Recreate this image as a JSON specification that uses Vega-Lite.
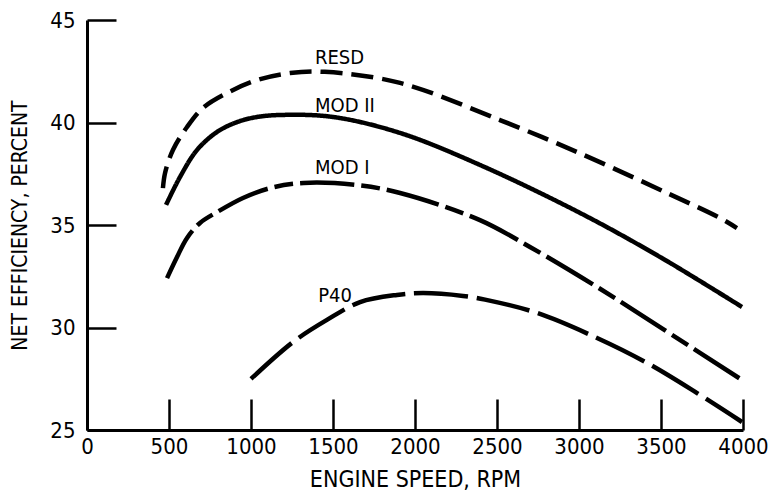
{
  "$schema": "https://vega.github.io/schema/vega-lite/v6.json",
  "autosize": "none",
  "width": 656,
  "height": 410,
  "padding": {"left": 87, "top": 20, "right": 29, "bottom": 64},
  "background": "white",
  "config": {
    "view": {"stroke": null},
    "font": "DejaVu Sans Condensed, Liberation Sans Narrow, DejaVu Sans, sans-serif",
    "axis": {"grid": false}
  },
  "datasets": {
    "curves": [
      {"series": "RESD", "rpm": 463, "eff": 36.8},
      {"series": "RESD", "rpm": 476, "eff": 37.54},
      {"series": "RESD", "rpm": 524, "eff": 38.66},
      {"series": "RESD", "rpm": 610, "eff": 39.78},
      {"series": "RESD", "rpm": 707, "eff": 40.71},
      {"series": "RESD", "rpm": 854, "eff": 41.44},
      {"series": "RESD", "rpm": 1037, "eff": 42.07},
      {"series": "RESD", "rpm": 1238, "eff": 42.41},
      {"series": "RESD", "rpm": 1450, "eff": 42.47},
      {"series": "RESD", "rpm": 1909, "eff": 41.93},
      {"series": "RESD", "rpm": 2518, "eff": 40.12},
      {"series": "RESD", "rpm": 2988, "eff": 38.56},
      {"series": "RESD", "rpm": 3537, "eff": 36.56},
      {"series": "RESD", "rpm": 3860, "eff": 35.34},
      {"series": "RESD", "rpm": 3963, "eff": 34.85},
      {"series": "MOD II", "rpm": 482, "eff": 35.98},
      {"series": "MOD II", "rpm": 567, "eff": 37.34},
      {"series": "MOD II", "rpm": 671, "eff": 38.66},
      {"series": "MOD II", "rpm": 793, "eff": 39.54},
      {"series": "MOD II", "rpm": 915, "eff": 40.02},
      {"series": "MOD II", "rpm": 1037, "eff": 40.27},
      {"series": "MOD II", "rpm": 1195, "eff": 40.37},
      {"series": "MOD II", "rpm": 1500, "eff": 40.27},
      {"series": "MOD II", "rpm": 1909, "eff": 39.49},
      {"series": "MOD II", "rpm": 2396, "eff": 37.93},
      {"series": "MOD II", "rpm": 3006, "eff": 35.59},
      {"series": "MOD II", "rpm": 3494, "eff": 33.44},
      {"series": "MOD II", "rpm": 3994, "eff": 31.0},
      {"series": "MOD I", "rpm": 488, "eff": 32.41},
      {"series": "MOD I", "rpm": 549, "eff": 33.44},
      {"series": "MOD I", "rpm": 610, "eff": 34.37},
      {"series": "MOD I", "rpm": 689, "eff": 35.1},
      {"series": "MOD I", "rpm": 793, "eff": 35.63},
      {"series": "MOD I", "rpm": 951, "eff": 36.32},
      {"series": "MOD I", "rpm": 1116, "eff": 36.8},
      {"series": "MOD I", "rpm": 1320, "eff": 37.05},
      {"series": "MOD I", "rpm": 1646, "eff": 36.95},
      {"series": "MOD I", "rpm": 1909, "eff": 36.56},
      {"series": "MOD I", "rpm": 2396, "eff": 35.24},
      {"series": "MOD I", "rpm": 2701, "eff": 33.93},
      {"series": "MOD I", "rpm": 3110, "eff": 31.98},
      {"series": "MOD I", "rpm": 3494, "eff": 30.02},
      {"series": "MOD I", "rpm": 3994, "eff": 27.44},
      {"series": "P40", "rpm": 1000, "eff": 27.49},
      {"series": "P40", "rpm": 1256, "eff": 29.29},
      {"series": "P40", "rpm": 1463, "eff": 30.37},
      {"series": "P40", "rpm": 1665, "eff": 31.24},
      {"series": "P40", "rpm": 1890, "eff": 31.59},
      {"series": "P40", "rpm": 2050, "eff": 31.68},
      {"series": "P40", "rpm": 2293, "eff": 31.54},
      {"series": "P40", "rpm": 2427, "eff": 31.36},
      {"series": "P40", "rpm": 2744, "eff": 30.71},
      {"series": "P40", "rpm": 3110, "eff": 29.49},
      {"series": "P40", "rpm": 3415, "eff": 28.27},
      {"series": "P40", "rpm": 3720, "eff": 26.8},
      {"series": "P40", "rpm": 3994, "eff": 25.39}
    ],
    "labels": [
      {"label": "RESD", "rpm": 1390, "eff": 43.17},
      {"label": "MOD II", "rpm": 1390, "eff": 40.8},
      {"label": "MOD I", "rpm": 1390, "eff": 37.78},
      {"label": "P40", "rpm": 1410, "eff": 31.54}
    ]
  },
  "layer": [
    {
      "data": {"name": "curves"},
      "mark": {"type": "line", "interpolate": "catmull-rom", "strokeWidth": 4.5, "color": "black", "clip": false},
      "encoding": {
        "x": {
          "field": "rpm", "type": "quantitative",
          "scale": {"domain": [0, 4000], "nice": false, "zero": false},
          "axis": {
            "title": "ENGINE SPEED, RPM",
            "values": [0, 500, 1000, 1500, 2000, 2500, 3000, 3500, 4000],
            "format": "d",
            "domainColor": "black", "domainWidth": 3,
            "tickColor": "black", "tickWidth": 2.5, "tickSize": -31,
            "labelFontSize": 22, "labelColor": "black",
            "labelPadding": 37, "labelFlush": false, "labelOverlap": false,
            "titleFontSize": 23, "titleFontWeight": "normal", "titleColor": "black",
            "titleY": 49, "titleBaseline": "middle"
          }
        },
        "y": {
          "field": "eff", "type": "quantitative",
          "scale": {"domain": [25, 45], "nice": false, "zero": false},
          "axis": {
            "title": "NET EFFICIENCY, PERCENT",
            "values": [25, 30, 35, 40, 45],
            "domainColor": "black", "domainWidth": 3,
            "tickColor": "black", "tickWidth": 2.5, "tickSize": -29,
            "labelFontSize": 22, "labelColor": "black",
            "labelPadding": 41, "labelFlush": false, "labelOverlap": false,
            "titleFontSize": 21, "titleFontWeight": "normal", "titleColor": "black",
            "titleX": -67, "titleY": 205, "titleAngle": -90, "titleAlign": "center", "titleBaseline": "middle"
          }
        },
        "detail": {"field": "series"},
        "strokeDash": {
          "field": "series", "type": "nominal",
          "scale": {"domain": ["RESD", "MOD II", "MOD I", "P40"], "range": [[22, 9], [1, 0], [54, 7, 19, 7], [54, 9]]},
          "legend": null
        }
      }
    },
    {
      "data": {"name": "labels"},
      "mark": {"type": "text", "align": "left", "baseline": "middle", "fontSize": 20, "color": "black"},
      "encoding": {
        "x": {"field": "rpm", "type": "quantitative"},
        "y": {"field": "eff", "type": "quantitative"},
        "text": {"field": "label"}
      }
    }
  ]
}
